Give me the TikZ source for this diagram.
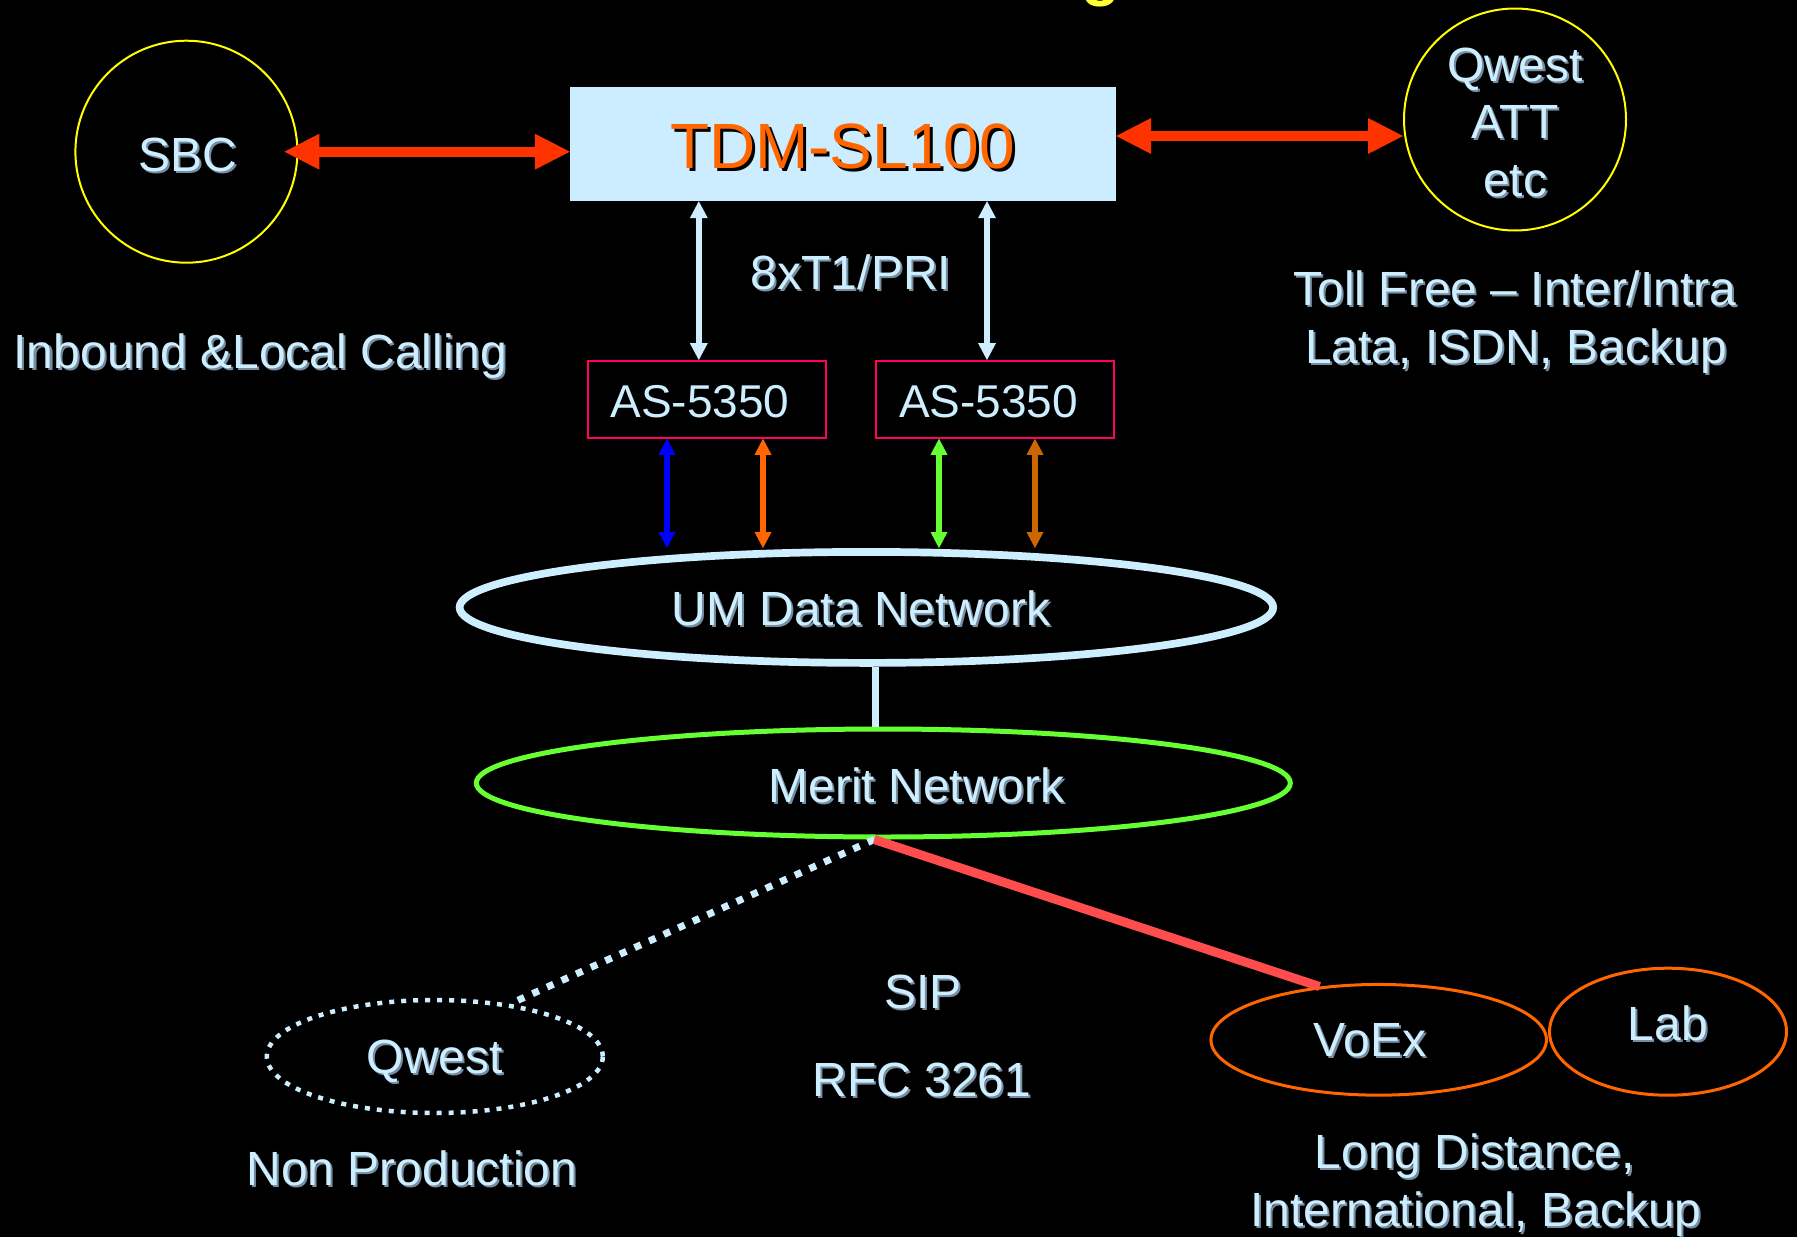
\documentclass[tikz,border=0pt]{standalone}
\usepackage{fontspec}
\setmainfont{Liberation Sans}
\usetikzlibrary{shapes.geometric,arrows.meta}
\definecolor{lblue}{HTML}{CCEEFF}
\definecolor{boxblue}{HTML}{CCECFF}
\definecolor{arrred}{HTML}{FF3300}
\definecolor{ylw}{HTML}{FFFF00}
\definecolor{crim}{HTML}{FF0066}
\definecolor{mgreen}{HTML}{66FF33}
\definecolor{lred}{HTML}{FF4D4D}
\definecolor{org}{HTML}{FF6600}
\definecolor{brn}{HTML}{CC6600}
\definecolor{shcol}{HTML}{788CA0}
\definecolor{ttl}{HTML}{FFFF33}
\newcommand{\shd}[1]{\leavevmode\rlap{\kern2pt\raisebox{-2pt}{\textcolor{shcol}{#1}}}#1}
\newcommand{\shk}[1]{\leavevmode\rlap{\kern3pt\raisebox{-3pt}{\textcolor{black}{#1}}}#1}
\begin{document}
\begin{tikzpicture}[x=1pt,y=-1pt,
  lbl/.style={text=lblue, inner sep=0pt, anchor=base, font=\fontsize{48}{58}\selectfont},
  circ/.style={circle, draw=ylw, line width=2pt, minimum size=222pt, inner sep=0pt},
  asbox/.style={draw=crim, line width=2pt, minimum width=238.4pt, minimum height=76.7pt, inner sep=0pt},
  ell/.style={ellipse, inner sep=0pt},
  bigarr/.style={color=arrred, line width=10pt, arrows={Triangle[width=36pt,length=35pt,line width=0pt]-Triangle[width=36pt,length=35pt,line width=0pt]}},
  lbarr/.style={color=lblue, line width=6.5pt, arrows={Triangle[width=18pt,length=17pt,line width=0pt]-Triangle[width=18pt,length=17pt,line width=0pt]}},
  colarr/.style={line width=6pt, arrows={Triangle[width=17pt,length=16pt,line width=0pt]-Triangle[width=17pt,length=16pt,line width=0pt]}}
]
\useasboundingbox[fill=black] (0,0) rectangle (1797,1237);

% partial title
\node[text=ttl, anchor=base, inner sep=0pt, font=\fontsize{64}{70}\selectfont\bfseries] (title) at (1101,-6.4) {g};

% shapes
\node[circ] (sbc) at (186.4,151.7) {};
\node[circ] (qatt) at (1515,119.5) {};
\node[fill=boxblue, minimum width=546pt, minimum height=114pt, inner sep=0pt] (tdm) at (843,144) {};
\node[asbox] (as1) at (706.8,399.4) {};
\node[asbox] (as2) at (995,399.4) {};
\node[ell, draw=lblue, line width=7.7pt, minimum width=813.6pt, minimum height=111pt] (um) at (866.4,607.4) {};
\node[ell, draw=mgreen, line width=5pt, minimum width=814pt, minimum height=108pt] (merit) at (883.3,783) {};
\node[ell, draw=lblue, line width=4.5pt, dash pattern=on 5pt off 7pt, minimum width=336pt, minimum height=113pt] (qwl) at (434.8,1056.5) {};
\node[ell, draw=org, line width=3pt, minimum width=335.5pt, minimum height=110.7pt] (voex) at (1378.7,1039.8) {};
\node[ell, draw=org, line width=3pt, minimum width=237pt, minimum height=127pt] (lab) at (1668,1031.7) {};

% connectors
\path ([xshift=-14pt]sbc.east) coordinate (s1);
\draw[bigarr] (s1) -- (s1 -| tdm.west);
\path ([yshift=8pt]tdm.east) coordinate (t1);
\draw[bigarr] (t1) -- (t1 -| qatt.west);

\path ([xshift=-8pt]as1.north) coordinate (v1);
\draw[lbarr] (v1 |- tdm.south) -- (v1);
\path ([xshift=-8pt]as2.north) coordinate (v2);
\draw[lbarr] (v2 |- tdm.south) -- (v2);

\path ([xshift=-39.8pt]as1.south) coordinate (c1);
\draw[colarr, blue] (c1) -- (c1 |- um.north);
\path ([xshift=56.2pt]as1.south) coordinate (c2);
\draw[colarr, org] (c2) -- (c2 |- um.north);
\path ([xshift=-56pt]as2.south) coordinate (c3);
\draw[colarr, mgreen] (c3) -- (c3 |- um.north);
\path ([xshift=40pt]as2.south) coordinate (c4);
\draw[colarr, brn] (c4) -- (c4 |- um.north);

\path ([xshift=8.6pt]um.south) coordinate (u1);
\draw[lblue, line width=7pt] (u1) -- (u1 |- merit.north);

\path ([xshift=-9pt]merit.south) coordinate (ms);
\draw[lblue, line width=7pt, dash pattern=on 7pt off 9pt] (ms) -- (qwl.35);
\draw[lred, line width=9pt] (ms) -- (voex.138);

% texts
\node[lbl] (tsbc) at (187.5,171.7) {\shd{SBC}};
\node[lbl] (tinb) at (260.5,368) {\shd{Inbound \&Local Calling}};
\node[text=org, inner sep=0pt, anchor=base, font=\fontsize{64}{70}\selectfont] (ttdm) at (842.5,168) {\shk{TDM-SL100}};
\node[lbl] (tt1) at (851,289) {\shd{8xT1/PRI}};
\node[lbl, font=\fontsize{46}{54}\selectfont] (tas1) at (700,417) {AS-5350};
\node[lbl, font=\fontsize{46}{54}\selectfont] (tas2) at (988.5,417) {AS-5350};
\node[lbl] (tum) at (861,625) {\shd{UM Data Network}};
\node[lbl] (tmer) at (916.5,802) {\shd{Merit Network}};
\node[lbl] (tqw) at (435,1073) {\shd{Qwest}};
\node[lbl] (tnon) at (412,1185) {\shd{Non Production}};
\node[lbl] (tsip) at (923,1008) {\shd{SIP}};
\node[lbl] (trfc) at (922,1096) {\shd{RFC 3261}};
\node[lbl] (tvoex) at (1370,1056.7) {\shd{VoEx}};
\node[lbl] (tlab) at (1668,1040.7) {\shd{Lab}};
\node[lbl] (tld) at (1475,1168) {\shd{Long Distance,}};
\node[lbl] (tint) at (1476,1226.7) {\shd{International, Backup}};
\node[lbl] (tq1) at (1515,81.7) {\shd{Qwest}};
\node[lbl] (tq2) at (1515,138) {\shd{ATT}};
\node[lbl] (tq3) at (1515,196.7) {\shd{etc}};
\node[lbl] (ttoll) at (1515,305) {\shd{Toll Free – Inter/Intra}};
\node[lbl] (tlata) at (1516,363) {\shd{Lata, ISDN, Backup}};
\end{tikzpicture}
\end{document}
